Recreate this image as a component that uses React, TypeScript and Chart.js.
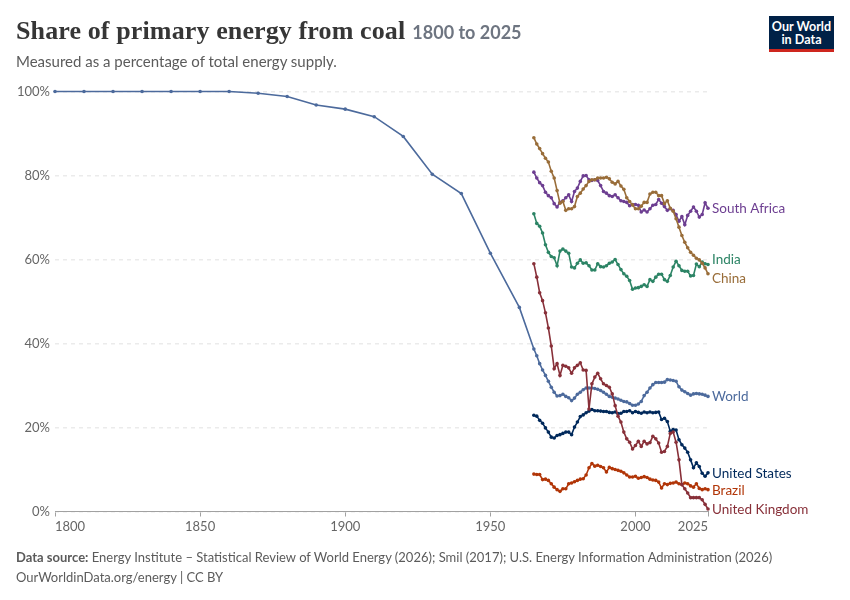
import React, { useEffect, useRef } from "react";
import { Chart, registerables } from "chart.js";

Chart.register(...registerables);

const worldEarlyYears = [1800, 1810, 1820, 1830, 1840, 1850, 1860, 1870, 1880, 1890, 1900, 1910, 1920, 1930, 1940, 1950, 1960];
const worldEarly = [100, 100, 100, 100, 100, 100, 100, 99.6, 98.8, 96.8, 95.8, 94, 89.3, 80.3, 75.7, 61.5, 48.6];

const years = [
	1965, 1966, 1967, 1968, 1969, 1970, 1971, 1972, 1973, 1974, 1975, 1976, 1977, 1978, 1979, 1980, 1981, 1982, 1983, 1984,
	1985, 1986, 1987, 1988, 1989, 1990, 1991, 1992, 1993, 1994, 1995, 1996, 1997, 1998, 1999, 2000, 2001, 2002, 2003, 2004,
	2005, 2006, 2007, 2008, 2009, 2010, 2011, 2012, 2013, 2014, 2015, 2016, 2017, 2018, 2019, 2020, 2021, 2022, 2023, 2024, 2025,
];

const world = [
	38.7, 37.1, 35.2, 33.7, 32.4, 31, 29.6, 28.4, 27.5, 27.6, 27.9, 27.4, 27.1, 26.4, 27, 27.9, 28.4, 29, 29.4, 29.4,
	29.4, 29.3, 29.1, 28.8, 28.4, 27.9, 27.4, 27.2, 27, 26.8, 26.5, 26.2, 26.1, 25.7, 25.3, 25.3, 25.6, 26.2, 27.6, 28.4,
	29.4, 30.2, 30.7, 30.7, 30.7, 30.8, 31.4, 31.3, 31.2, 31, 29.7, 28.9, 28.5, 28.1, 27.7, 28, 28.1, 28, 27.9, 27.7, 27.4,
];
const southAfrica = [
	80.8, 79.4, 78.3, 77.6, 76, 75.2, 74.7, 73.3, 72.5, 73.6, 74, 74.7, 75.4, 73.8, 76.2, 77, 78.6, 79.9, 80, 79,
	78.8, 79, 78.8, 77.6, 76.2, 75.8, 75.2, 75, 75.4, 74.7, 74, 73.8, 73.6, 72.8, 73.1, 73.1, 72.9, 71.3, 71.8, 71.3,
	72.1, 72.9, 73.1, 74.3, 73.4, 72.6, 71.7, 72.1, 71.7, 70.7, 69.1, 70.2, 68.3, 70.5, 71.5, 72.5, 71.5, 70.1, 70.7, 73.5, 72.2,
];
const china = [
	89, 87.5, 86.4, 85.2, 84.1, 83.2, 81, 79.4, 76.4, 73.4, 73.8, 71.7, 72.1, 72.1, 72.6, 75, 75.8, 76.8, 77.6, 78.6,
	79, 79, 79.4, 79.4, 79.4, 79.6, 79.2, 78.4, 78, 78.6, 77.5, 76.7, 74.7, 73.8, 73, 72.1, 72.1, 72.7, 73.6, 73.6,
	75.6, 76, 76, 75.2, 75.2, 73.3, 74, 72.2, 71.5, 69.7, 67.7, 65.7, 64.1, 62.8, 61.7, 61, 60.3, 59.9, 59.1, 58, 56.6,
];
const india = [
	70.9, 68.6, 67.9, 66.3, 63.5, 61.7, 60.7, 60.4, 58.5, 62, 62.5, 62, 61.5, 58.2, 58, 59.1, 59.9, 59.1, 59.2, 58.5,
	57.5, 57.5, 59, 58.3, 58.2, 58.5, 59.1, 59.4, 60, 58.8, 57.6, 56.6, 56, 55, 52.9, 53.2, 53.3, 53.6, 54, 53.6,
	55.2, 54.8, 55.8, 56.5, 56.5, 55.2, 54.8, 56.2, 58.2, 59.6, 58.5, 57.4, 57.2, 57.2, 56.1, 56.2, 58.9, 58.3, 59.4, 59, 58.8,
];
const unitedKingdom = [
	59, 55.8, 52.1, 50.2, 47.3, 43.7, 39.4, 34, 35.2, 32.4, 34.8, 34.6, 34.2, 32.9, 34.2, 34.8, 35.4, 33.7, 33.6, 24.4,
	30.4, 32, 32.9, 31.6, 30.4, 30, 29.6, 28, 25.2, 22.7, 21.3, 18.9, 17.3, 16.5, 14.9, 15.7, 16.7, 15.5, 16.7, 16.1,
	16.4, 17.9, 17.3, 16.3, 14.1, 14.3, 15.5, 18.6, 18.9, 16.5, 12.3, 6.4, 5.4, 4.4, 3.3, 3.3, 3.3, 3.3, 2.8, 1.7, 0.6,
];
const unitedStates = [
	22.9, 22.7, 21.7, 21, 19.9, 18.9, 17.7, 17.5, 18.1, 18.3, 18.6, 18.9, 18.9, 18.3, 20.1, 21.3, 22.6, 23, 23.5, 23.9,
	24.3, 24, 24, 23.9, 23.8, 23.8, 23.6, 23.5, 23.7, 23.3, 23.4, 23.8, 23.8, 24, 23.5, 23.8, 23.6, 23.4, 23.7, 23.5,
	23.7, 23.5, 23.6, 23.7, 21.9, 22.2, 21.4, 19.1, 19.5, 19.4, 17.1, 15.9, 15.1, 14.1, 12.3, 10.4, 11.6, 10.7, 9.1, 8.4, 9.2,
];
const brazil = [
	8.9, 8.8, 8.8, 7.6, 7.7, 7.4, 6.6, 5.8, 5.2, 4.8, 5.4, 5.4, 6.6, 6.8, 7.1, 7.4, 7.7, 7.8, 8.7, 10.4,
	11.4, 10.8, 11, 10.7, 10.4, 9.4, 10.5, 10.2, 10, 9.8, 9.6, 9.2, 8.7, 8.2, 8.2, 8.4, 7.9, 8.1, 8.3, 8.1,
	7.7, 7.5, 7.4, 7, 5.6, 6.6, 6.4, 6.7, 6.8, 7, 6.6, 6.4, 6.8, 6.6, 6.1, 5.8, 6.6, 5.5, 5.2, 5.4, 5.2,
];

const xTicks = [1800, 1850, 1900, 1950, 2000, 2025];
const yTicks = [0, 20, 40, 60, 80, 100];

const seriesNames = ["China", "South Africa", "India", "United Kingdom", "World", "United States", "Brazil"];
const seriesColors = ["#996D39", "#6D3E91", "#2C8465", "#883039", "#4C6A9C", "#00295B", "#B13507"];
// where the end labels sit after dodging, on the value axis
const labelAnchors = [55.5, 72.2, 60, 0.5, 27.4, 9, 5];

const toPoints = (xs: number[], ys: number[]) => xs.map((x, i) => ({ x, y: ys[i] }));

const seriesData = [
	toPoints(years, china),
	toPoints(years, southAfrica),
	toPoints(years, india),
	toPoints(years, unitedKingdom),
	[...toPoints(worldEarlyYears, worldEarly), ...toPoints(years, world)],
	toPoints(years, unitedStates),
	toPoints(years, brazil),
];

const endLabels = {
	id: "endLabels",
	afterDatasetsDraw(chart: Chart) {
		const { ctx, scales } = chart;
		ctx.save();
		ctx.font = "13.5px Lato";
		ctx.textBaseline = "middle";
		ctx.textAlign = "left";
		seriesNames.forEach((name, i) => {
			ctx.fillStyle = seriesColors[i];
			ctx.fillText(name, scales.x.getPixelForValue(2025) + 4, scales.y.getPixelForValue(labelAnchors[i]));
		});
		ctx.restore();
	},
};

const CoalShareChart = () => {
	const chartRef = useRef<HTMLCanvasElement>(null);
	const chartInstance = useRef<Chart | null>(null);

	useEffect(() => {
		if (!chartRef.current) return;

		chartInstance.current = new Chart(chartRef.current, {
			type: "line",
			data: {
				datasets: seriesNames.map((name, i) => ({
					label: name,
					data: seriesData[i],
					borderColor: seriesColors[i],
					backgroundColor: seriesColors[i],
					borderWidth: 1.6,
					pointRadius: 1.8,
					pointBorderWidth: 0,
					tension: 0,
					clip: false,
				})),
			},
			options: {
				animation: false,
				responsive: false,
				layout: { padding: { top: 91.5, right: 142, bottom: 0, left: 0 } },
				plugins: { legend: { display: false }, tooltip: { enabled: false } },
				scales: {
					x: {
						type: "linear",
						min: 1800,
						max: 2025,
						afterBuildTicks: (scale) => {
							scale.ticks = xTicks.map((value) => ({ value }));
						},
						afterFit: (scale) => {
							scale.height = 88.5;
						},
						border: { color: "#a1a1a1" },
						grid: { drawOnChartArea: false, tickLength: 5, tickColor: "#a1a1a1" },
						ticks: {
							align: "inner",
							maxRotation: 0,
							autoSkip: false,
							padding: 3,
							color: "#666",
							font: { family: "Lato", size: 13 },
							callback: (value) => String(value),
						},
					},
					y: {
						min: 0,
						max: 100,
						afterBuildTicks: (scale) => {
							scale.ticks = yTicks.map((value) => ({ value }));
						},
						afterFit: (scale) => {
							scale.width = 55;
						},
						border: { display: false, dash: [4, 4] },
						grid: { color: "#ebebeb", lineWidth: 1.5, drawTicks: false },
						ticks: {
							padding: 5,
							color: "#666",
							font: { family: "Lato", size: 13 },
							callback: (value) => value + "%",
						},
					},
				},
			},
			plugins: [endLabels],
		});

		return () => {
			if (chartInstance.current) {
				chartInstance.current.destroy();
			}
		};
	}, []);

	return <canvas ref={chartRef} width={850} height={600} style={{ display: "block" }} />;
};

const App = () => {
	return (
		<div style={{ position: "absolute", left: 0, top: 0, width: 850, height: 600, background: "#fff", fontFamily: "Lato", overflow: "hidden" }}>
			<CoalShareChart />
			<div style={{ position: "absolute", left: 16, top: 14, whiteSpace: "nowrap", color: "#363636" }}>
				<span style={{ fontFamily: "'Liberation Serif'", fontWeight: 700, fontSize: 26, lineHeight: "34px", letterSpacing: 0.12 }}>Share of primary energy from coal</span>
				<span style={{ fontSize: 18, color: "#6e7581", marginLeft: 7, fontWeight: 700 }}>1800 to 2025</span>
			</div>
			<div style={{ position: "absolute", left: 16, top: 52, fontSize: 15, lineHeight: "18px", color: "#5b5b5b", whiteSpace: "nowrap" }}>
				Measured as a percentage of total energy supply.
			</div>
			<div style={{ position: "absolute", left: 769, top: 16, width: 65, height: 33, background: "#002147", borderBottom: "3px solid #ce261e", color: "#fff", fontWeight: 700, fontSize: 12.6, lineHeight: "13px", textAlign: "center", whiteSpace: "nowrap" }}>
				<div style={{ marginTop: 4 }}>Our World</div>
				<div>in Data</div>
			</div>
			<div style={{ position: "absolute", left: 16, top: 547, fontSize: 13, lineHeight: "20px", color: "#5b5b5b", whiteSpace: "nowrap" }}>
				<div>
					<b>Data source:</b> Energy Institute – Statistical Review of World Energy (2026); Smil (2017); U.S. Energy Information Administration (2026)
				</div>
				<div>OurWorldinData.org/energy | CC BY</div>
			</div>
		</div>
	);
};

export default App;
